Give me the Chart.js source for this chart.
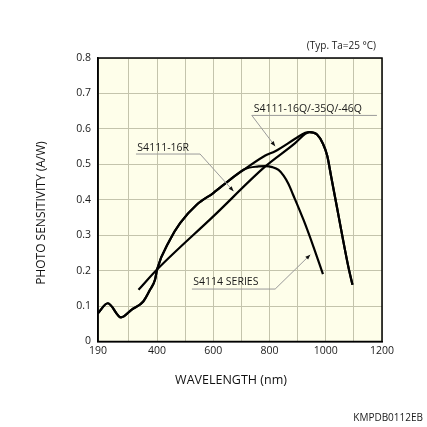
<!DOCTYPE html>
<html><head><meta charset="utf-8">
<script src="https://cdn.jsdelivr.net/npm/chart.js@4/dist/chart.umd.min.js"></script>
<style>html,body{margin:0;padding:0;background:#fff;}#wrap{width:427px;height:427px;position:relative;}</style>
</head><body><div id="wrap"><canvas id="c"></canvas></div>
<script>
// ---- data (wavelength nm / photo sensitivity A/W) ----
const s4111Q_nm  = [190,225,272,310,351,375,393,400,446,482,541,600,660,713,785,820,891,927,942,969,990,1005,1020,1040,1060,1080,1095];
const s4111Q_val = [0.080,0.108,0.068,0.090,0.113,0.146,0.175,0.203,0.287,0.334,0.386,0.419,0.457,0.487,0.525,0.537,0.572,0.589,0.591,0.584,0.558,0.525,0.462,0.378,0.293,0.212,0.160];
const s4114_nm   = [190,225,272,310,351,375,393,400,446,482,541,600,660,713,761,785,810,832,850,867,885,921,956,990];
const s4114_val  = [0.080,0.108,0.068,0.090,0.113,0.146,0.175,0.203,0.287,0.334,0.386,0.419,0.457,0.487,0.494,0.495,0.492,0.484,0.468,0.445,0.412,0.343,0.268,0.190];
const s4111R_nm  = [334,400,600,785,891,927,942,969,990,1005,1020,1040,1060,1080,1095];
const s4111R_val = [0.146,0.203,0.353,0.494,0.560,0.586,0.591,0.584,0.558,0.525,0.462,0.378,0.293,0.212,0.160];
const seriesNames = ['S4111-16Q/-35Q/-46Q','S4111-16R','S4114 SERIES'];
const xTickValues = [190,300,400,500,600,700,800,900,1000,1100,1200];
const xTickLabels = [190,400,600,800,1000,1200];
const yTickValues = [0,0.1,0.2,0.3,0.4,0.5,0.6,0.7,0.8];
const xTitle = 'WAVELENGTH (nm)';
const yTitle = 'PHOTO SENSITIVITY (A/W)';
const noteText = '(Typ. Ta=25 °C)';
const codeText = 'KMPDB0112EB';

// callout anchors in data units: text left/center, underline span, leader target
const callouts = [
  {name: seriesNames[0], tx: 744, ty: 0.657, u0: 737, u1: 1182, uy: 0.638, from: 737, px: 820, py: 0.551},
  {name: seriesNames[1], tx: 330, ty: 0.546, u0: 325, u1: 553, uy: 0.529, from: 553, px: 672, py: 0.424},
  {name: seriesNames[2], tx: 529, ty: 0.168, u0: 524, u1: 820, uy: 0.148, from: 820, px: 945, py: 0.245}
];

const pts = (xs, ys) => xs.map((x, i) => ({x: x, y: ys[i]}));
const FONT = '"Open Sans", "DejaVu Sans", sans-serif';

const decor = {
  id: 'decor',
  beforeDraw(chart) {
    const {ctx, chartArea: a} = chart;
    ctx.save();
    ctx.fillStyle = '#fefeea';
    ctx.fillRect(a.left, a.top, a.right - a.left, a.bottom - a.top);
    ctx.restore();
  },
  afterDatasetsDraw(chart) {
    const {ctx, chartArea: a, scales: {x, y}} = chart;
    ctx.save();
    ctx.strokeStyle = '#000';
    ctx.lineWidth = 1.5;
    ctx.strokeRect(a.left, a.top, a.right - a.left, a.bottom - a.top);
    ctx.font = '10.5px ' + FONT;
    ctx.textBaseline = 'middle';
    ctx.textAlign = 'left';
    callouts.forEach(c => {
      ctx.fillStyle = '#1a1a1a';
      ctx.fillText(c.name, x.getPixelForValue(c.tx), y.getPixelForValue(c.ty));
      ctx.strokeStyle = '#9a9a9a';
      ctx.lineWidth = 1;
      const uy = y.getPixelForValue(c.uy);
      ctx.beginPath();
      ctx.moveTo(x.getPixelForValue(c.u0), uy);
      ctx.lineTo(x.getPixelForValue(c.u1), uy);
      const fx = x.getPixelForValue(c.from), tx = x.getPixelForValue(c.px), ty = y.getPixelForValue(c.py);
      ctx.moveTo(fx, uy);
      ctx.lineTo(tx, ty);
      ctx.stroke();
      const ang = Math.atan2(ty - uy, tx - fx);
      const L = 5, W = 2;
      ctx.fillStyle = '#111';
      ctx.beginPath();
      ctx.moveTo(tx, ty);
      ctx.lineTo(tx - L * Math.cos(ang) + W * Math.sin(ang), ty - L * Math.sin(ang) - W * Math.cos(ang));
      ctx.lineTo(tx - L * Math.cos(ang) - W * Math.sin(ang), ty - L * Math.sin(ang) + W * Math.cos(ang));
      ctx.closePath();
      ctx.fill();
    });
    ctx.fillStyle = '#111';
    ctx.font = '12.5px ' + FONT;
    ctx.textAlign = 'center';
    ctx.fillText(xTitle, 231, 380);
    ctx.save();
    ctx.translate(42, 213);
    ctx.rotate(-Math.PI / 2);
    ctx.font = '12px ' + FONT;
    ctx.fillText(yTitle, 0, 0);
    ctx.restore();
    ctx.font = '10px ' + FONT;
    ctx.textAlign = 'right';
    ctx.fillStyle = '#1a1a1a';
    ctx.fillText(noteText, 376, 46);
    ctx.fillText(codeText, 423, 418);
    ctx.restore();
  }
};

const lineStyle = {borderColor: '#000', borderWidth: 2.2, pointRadius: 0, fill: false, cubicInterpolationMode: 'monotone'};

new Chart(document.getElementById('c'), {
  type: 'line',
  data: {
    datasets: [
      Object.assign({label: seriesNames[0], data: pts(s4111Q_nm, s4111Q_val)}, lineStyle),
      Object.assign({label: seriesNames[1], data: pts(s4111R_nm, s4111R_val)}, lineStyle),
      Object.assign({label: seriesNames[2], data: pts(s4114_nm, s4114_val)}, lineStyle)
    ]
  },
  options: {
    responsive: true,
    maintainAspectRatio: false,
    animation: false,
    layout: {padding: {left: 0, right: 45, top: 58, bottom: 0}},
    plugins: {legend: {display: false}, tooltip: {enabled: false}},
    scales: {
      x: {
        type: 'linear', min: 190, max: 1200,
        afterBuildTicks: axis => { axis.ticks = xTickValues.map(v => ({value: v})); },
        afterFit: axis => { axis.height = 85.5; },
        ticks: {
          autoSkip: false, maxRotation: 0, padding: 3, color: '#1a1a1a',
          font: {family: FONT, size: 10.5},
          callback: v => xTickLabels.includes(v) ? String(v) : ''
        },
        grid: {color: '#c4c4ac', lineWidth: 1, drawTicks: false},
        border: {display: true, color: '#000', width: 1.5}
      },
      y: {
        type: 'linear', min: 0, max: 0.8,
        afterBuildTicks: axis => { axis.ticks = yTickValues.map(v => ({value: v})); },
        afterFit: axis => { axis.width = 98; },
        ticks: {
          padding: 7, color: '#1a1a1a',
          font: {family: FONT, size: 10.5},
          callback: v => v === 0 ? '0' : v.toFixed(1)
        },
        grid: {color: '#c4c4ac', lineWidth: 1, drawTicks: false},
        border: {display: true, color: '#000', width: 1.5}
      }
    }
  },
  plugins: [decor]
});
</script>
</body></html>
